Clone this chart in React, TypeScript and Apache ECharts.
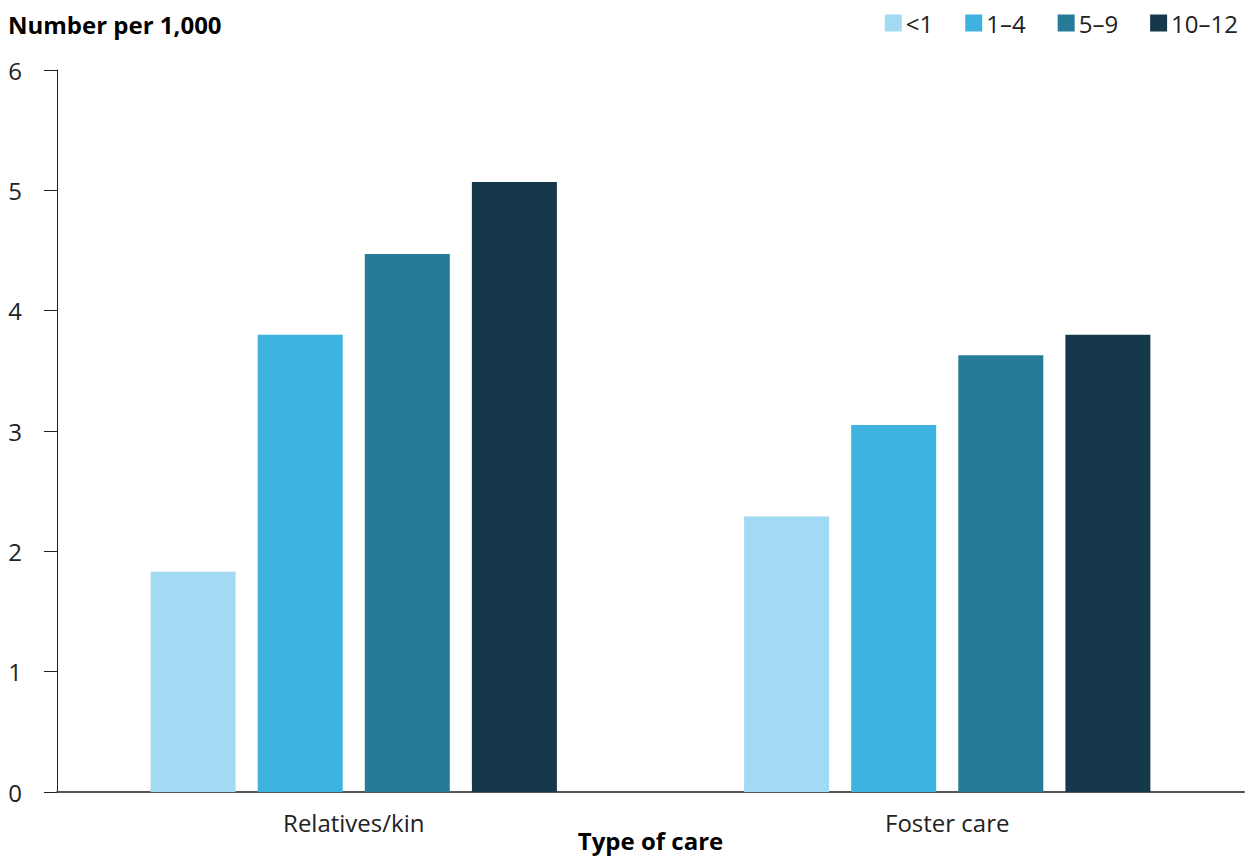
import React, { useEffect, useRef } from "react";
import * as echarts from "echarts";

const categories = ["Relatives/kin", "Foster care"];
const seriesNames = ["<1", "1–4", "5–9", "10–12"];
const under1 = [1.83, 2.29];
const age1to4 = [3.8, 3.05];
const age5to9 = [4.47, 3.63];
const age10to12 = [5.07, 3.8];
const colors = ["#A3DAF3", "#3FB3DF", "#267B98", "#15384B"];
const FONT = "'Open Sans', 'Noto Sans', sans-serif";

export default function App() {
  const ref = useRef<HTMLDivElement>(null);
  useEffect(() => {
    if (!ref.current) return;
    const chart = echarts.init(ref.current, undefined, { renderer: "svg" });
    const data = [under1, age1to4, age5to9, age10to12];
    chart.setOption({
      animation: false,
      textStyle: { fontFamily: FONT },
      title: {
        text: "Number per 1,000",
        left: 3,
        top: 7,
        textStyle: { fontFamily: FONT, fontSize: 24, fontWeight: "bold", color: "#000" },
      },
      legend: {
        right: 4,
        top: 6,
        itemWidth: 17,
        itemHeight: 17,
        itemGap: 32,
        icon: "rect",
        textStyle: { fontFamily: FONT, fontSize: 24, color: "#222", padding: [0, 0, 0, -1] },
        data: seriesNames,
      },
      grid: {
        left: 57,
        right: 3,
        top: 70,
        height: 722,
        containLabel: false,
        outerBoundsMode: "none",
      },
      xAxis: {
        type: "category",
        data: categories,
        name: "Type of care",
        nameLocation: "middle",
        nameGap: 36,
        nameMoveOverlap: false,
        nameTextStyle: { fontFamily: FONT, fontSize: 24, fontWeight: "bold", color: "#000" },
        axisLine: { lineStyle: { color: "#555", width: 2 } },
        axisTick: { show: false },
        axisLabel: { fontFamily: FONT, fontSize: 24, color: "#222", margin: 18 },
      },
      yAxis: {
        type: "value",
        min: 0,
        max: 6,
        interval: 1,
        axisLine: { show: true, lineStyle: { color: "#222", width: 1 } },
        axisTick: { show: true, length: 13, lineStyle: { color: "#222", width: 1 } },
        axisLabel: { fontFamily: FONT, fontSize: 24, color: "#222", margin: 35 },
        splitLine: { show: false },
      },
      series: seriesNames.map((name, i) => ({
        name,
        type: "bar",
        data: data[i],
        barWidth: 85,
        barGap: "26%",
        itemStyle: { color: colors[i] },
      })),
    });
    return () => chart.dispose();
  }, []);
  return (
    <div
      ref={ref}
      style={{ position: "fixed", left: 0, top: 0, width: 1247, height: 857, background: "#fff" }}
    />
  );
}
